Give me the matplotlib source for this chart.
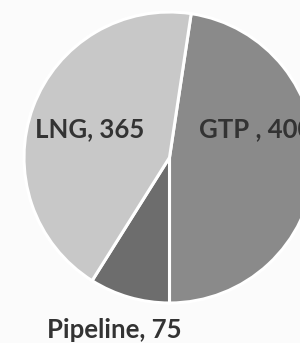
"""
Gas supply by route: pie chart of GTP, Pipeline and LNG volumes.
"""

import matplotlib
matplotlib.use("Agg")
import matplotlib.pyplot as plt

# Data
routes = ["GTP ", "Pipeline", "LNG"]
volumes = [400, 75, 365]
colors = ["#8a8a8a", "#6d6d6d", "#c8c8c8"]

# Label anchors, in units of the pie radius from its centre
label_offsets = [(0.20, 0.14, "left"), (-0.38, -1.24, "center"), (-0.55, 0.14, "center")]


def main():

    W, H = 300, 343
    fig = plt.figure(figsize=(W / 100, H / 100), dpi=100)
    fig.patch.set_facecolor("#fbfbfb")
    ax = fig.add_axes([0, 0, 1, 1])
    ax.set_xlim(0, W)
    ax.set_ylim(0, H)
    ax.set_aspect("equal")
    ax.axis("off")

    cx, cy = 169.5, H - 157.5   # pie centre
    r = 145.5                   # pie radius

    # GTP ends exactly at 6 o'clock
    start = -90 + 360 * volumes[0] / sum(volumes)

    ax.pie(volumes, colors=colors, center=(cx, cy), radius=r,
           startangle=start, counterclock=False,
           wedgeprops=dict(edgecolor="white", linewidth=2.2))

    # restore limits after pie changes them
    ax.set_xlim(0, W)
    ax.set_ylim(0, H)

    for name, v, (ox, oy, ha) in zip(routes, volumes, label_offsets):
        ax.text(cx + ox * r, cy + oy * r, f"{name}, {v}", ha=ha, va="baseline",
                fontsize=18.5, fontweight="bold", family=["Lato", "DejaVu Sans"],
                color="#333333")

    fig.savefig("out.png", dpi=100, facecolor=fig.get_facecolor())


if __name__ == "__main__":

    main()
